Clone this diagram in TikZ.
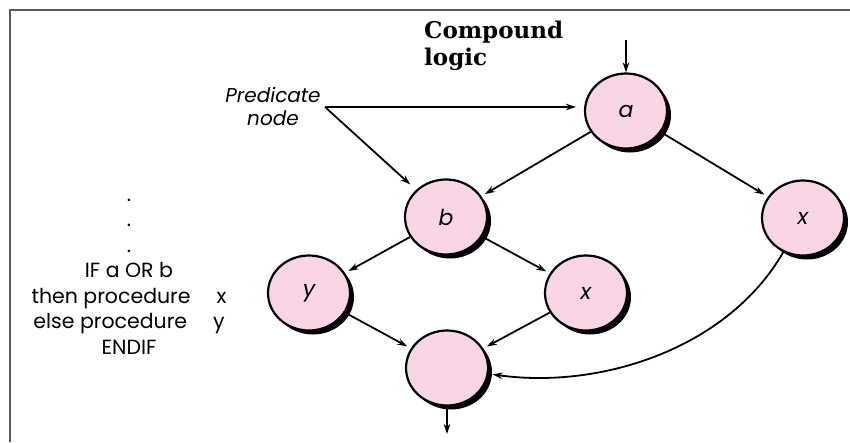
\documentclass[tikz,border=0pt]{standalone}
\usepackage{fontspec}
\setsansfont{Poppins}
\newfontfamily\policetitre{DejaVu Serif}
\usetikzlibrary{arrows.meta,shapes.geometric,shadows}
\definecolor{rose}{RGB}{249,213,229}
\definecolor{cadre}{RGB}{90,90,90}

\begin{document}
\begin{tikzpicture}[x=1pt,y=-1pt]
	% Styles
	\tikzstyle{fleche}=[-{Stealth[length=10pt,width=6.5pt]},line width=1.8pt,shorten >=4pt]
	\tikzstyle{noeud}=[ellipse,draw,line width=2.2pt,fill=rose,minimum width=82pt,minimum height=75pt,inner sep=0pt,
		font=\sffamily\itshape\fontsize{22}{26}\selectfont,
		drop shadow={shadow xshift=4pt,shadow yshift=-4pt,fill=black,opacity=1}]
	\tikzstyle{commentaire}=[inner sep=0pt,align=center]
	% Dimensions
	\def\Interligne{25.5}
	% Cadre
	\useasboundingbox (0,0) rectangle (850,442);
	\draw[cadre,line width=2.6pt] (10,442) -- (10,10) -- (850,10);
	% Textes (ancre base = derniere ligne)
	\node[commentaire,anchor=base west,align=left,font=\policetitre\bfseries\fontsize{23}{27}\selectfont] (titre) at (424,65) {Compound\\logic};
	\node[commentaire,anchor=base,font=\sffamily\itshape\fontsize{20}{23}\selectfont] (predicat) at (273,125) {Predicate\\node};
	\node[commentaire,anchor=base,font=\sffamily\fontsize{20.5}{\Interligne}\selectfont] (code) at (129,354)
		{.\\.\\.\\IF a OR b\\then procedure\quad\ x\\else procedure\quad\ y\\ENDIF};
	\coordinate (pointe) at (325,107);
	% Noeuds
	\node[noeud] (a) at (626,111) {a};
	\node[noeud] (b) at (446,217) {b};
	\node[noeud] (xd) at (803,218) {x};
	\node[noeud] (y) at (309,293) {y};
	\node[noeud] (xm) at (586,293) {x};
	\node[noeud] (fin) at (447,368) {};
	\coordinate (entree) at (626,40);
	\coordinate (sortie) at (447,434);
	% Arcs
	\draw[fleche,shorten >=0pt] (entree) -- (a);
	\draw[fleche,shorten >=8pt] (pointe) -- (pointe -| a.west);
	\draw[fleche,shorten >=8pt] (pointe) -- (b);
	\draw[fleche] (a) -- (b);
	\draw[fleche] (a) -- (xd);
	\draw[fleche] (b) -- (y);
	\draw[fleche] (b) -- (xm);
	\draw[fleche] (y) -- (fin);
	\draw[fleche] (xm) -- (fin);
	\draw[fleche] (xd) to[out=-120,in=-8,looseness=0.9] (fin);
	\draw[fleche,shorten >=0pt] (fin) -- (sortie);
\end{tikzpicture}
\end{document}
